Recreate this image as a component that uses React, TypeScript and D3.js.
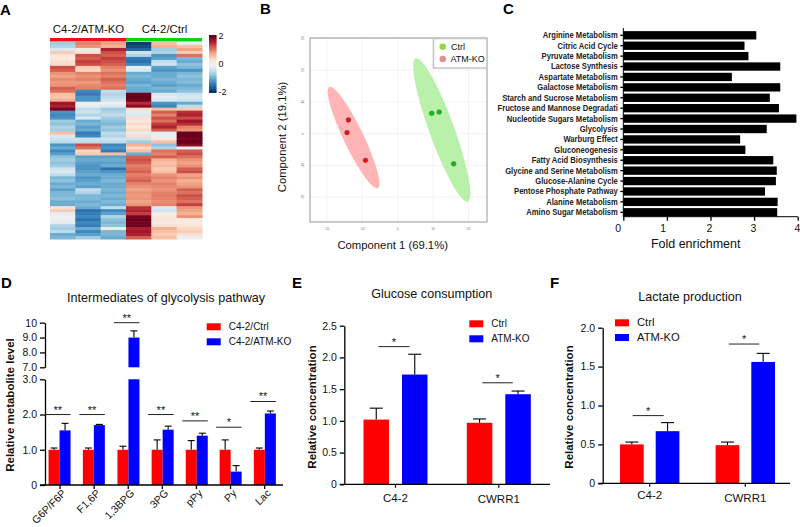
import React, { useEffect, useRef } from 'react';
import * as d3 from 'd3';

// A: heatmap, one array per sample, rows top to bottom
const heatKo1 = [-0.7,-0.6,-0.3,0.5,0.25,0.2,0.3,0.35,1.3,1.2,0.9,0.8,0.95,0.85,0.9,1.2,1.1,0.6,0.55,0.7,1.7,1.6,1.9,-1.2,-1.3,-1.2,-0.7,-0.8,-0.6,-0.7,0.6,-0.3,-0.4,-0.5,-1.2,-1.0,-1.3,-1.1,-0.8,-0.7,-0.8,-0.7,-0.4,-0.3,-0.5,-0.9,-0.8,-1,-0.9,-1.1,-0.9,-0.9,-0.8,-1,-1,0.3,0.5,-0.2,0,-0.1,-0.2,-0.6,-0.7,-0.5,-1,-0.9];
const heatKo2 = [1.0,0.9,0.2,0.3,1.3,1.2,1.4,1.3,0.5,0.4,1,0.9,1,0.85,0.95,1.0,-1.3,-1.4,-1.2,-1.2,0.1,-0.2,-0.5,-0.4,-0.6,-0.3,-1,-0.9,-1.1,-1,-1.4,-1.3,-0.4,-0.5,1.3,1.1,0.4,0.5,-1.1,-1,-1.1,-1.2,-1.2,-1.1,-1,-1.2,-1.1,-1,-1.1,-0.5,-0.6,-0.9,-0.9,-1,-0.9,-1,-1.5,-1.4,-1.3,-1.5,-1.3,-1.4,-1,-1.3,-1.1,-0.7];
const heatKo3 = [0.8,0.7,1.6,1.3,1.2,1.4,1.3,1.2,1.0,0.9,1.1,1,1.2,1.1,1,1.1,-0.5,-0.6,-0.5,-0.4,0,-0.3,-0.7,-0.6,-0.5,-0.7,-0.8,-0.9,-0.7,-0.8,-0.5,-0.6,-0.4,-0.5,-1.3,-1.2,-1.4,0.6,-1.1,-1,-1.1,-1,-1.5,-1.2,-1,-1,-0.9,-1,-1,-0.9,-1,-0.9,-1,-0.9,-1,-0.5,-1.3,-1.1,-0.6,-0.8,-0.9,-0.8,0.2,-0.9,-0.9,-1];
const heatCtrl1 = [-1.9,-1.8,-1.6,-0.4,-0.6,-1.4,-1.5,-1.3,-0.2,-0.3,-1,-0.9,-1,-1.1,-0.9,-1,-1,2,2,1.95,1.5,1.8,0.3,-0.2,-0.3,0.3,0.2,0.35,0.2,0.4,-0.2,0.3,-0.4,-0.7,0.7,0.4,0.6,-1,1.2,1.3,1.2,1.0,1.1,1.2,1,1.1,1.2,1,0.9,0.8,0.9,0.85,0.9,0.8,0.9,1.5,1.6,1.4,1.9,2,1.9,1.95,1.6,1.7,1.6,1.2];
const heatCtrl2 = [0.6,0.7,-0.7,-0.6,-1.2,-1.1,-0.5,-0.4,-1.1,-1.2,-1,-1,-0.9,-1,-1.1,-0.9,-1,-0.3,-0.2,-0.3,-1.2,-1.3,0.6,1.2,1,1.3,1.1,1.4,1.6,1.2,-0.2,-0.1,0.2,0.6,-0.8,-0.6,1.1,1,1.2,0.7,0.6,0.65,0.5,0.6,0.9,1,0.9,1,0.95,0.9,1,1.05,1,0.95,1,-0.3,-0.4,0.1,0.2,0.25,0.15,0.3,0.7,0.6,0.5,0.6];
const heatCtrl3 = [-0.2,0.6,0.8,0.5,1.1,-0.9,-1,-0.8,-0.9,-1.2,-0.9,-0.8,-0.9,-0.85,-1,-0.9,-0.8,-0.4,-0.3,-0.4,-1,-0.5,0.5,1.5,1.6,1.3,1.7,1.5,1,0.9,2,2,1.9,2,1.8,-0.1,1.2,1.3,1.1,0.9,0.8,0.9,1.2,1.3,0.8,0.9,0.7,0.8,0.9,1.2,1.1,1.3,1.2,1.1,1.4,0.9,0.8,0.7,0.9,0.2,0.15,0.25,0.4,0.5,0.3,-0.1];
const heatColumns = [heatKo1, heatKo2, heatKo3, heatCtrl1, heatCtrl2, heatCtrl3];

// B: PCA scores
const pcaCtrl = [[9.6, 6.4], [11.7, 6.8], [15.8, -9.5]];
const pcaKo = [[-13.9, 4.3], [-14.3, 0.3], [-9.1, -8.4]];
const pcaTicksX = [-20, -10, 0, 10, 20];
const pcaTicksY = [-20, -10, 0, 10, 20, 30];

// C: pathway enrichment
const pathways = ['Arginine Metabolism','Citric Acid Cycle','Pyruvate Metabolism','Lactose Synthesis','Aspartate Metabolism','Galactose Metabolism','Starch and Sucrose Metabolism','Fructose and Mannose Degradati','Nucleotide Sugars Metabolism','Glycolysis','Warburg Effect','Gluconeogenesis','Fatty Acid Biosynthesis','Glycine and Serine Metabolism','Glucose-Alanine Cycle','Pentose Phosphate Pathway','Alanine Metabolism','Amino Sugar Metabolism'];
const enrichment = [3.05,2.78,2.87,3.6,2.49,3.6,3.36,3.57,3.97,3.29,2.68,2.8,3.44,3.52,3.5,3.25,3.54,3.53];

// D: glycolysis intermediates
const metabolites = ['G6P/F6P','F1,6P','1,3BPG','3PG','pPy','Py','Lac'];
const metCtrl = [1, 1, 1, 1, 1, 1, 1];
const metCtrlTop = [1.05, 1.05, 1.1, 1.28, 1.26, 1.28, 1.05];
const metKo = [1.55, 1.7, 9.0, 1.57, 1.4, 0.38, 2.03];
const metKoTop = [1.75, 1.72, 9.45, 1.67, 1.47, 0.55, 2.1];
const metSigLevel = [2.0, 2.0, 10, 2.0, 1.82, 1.64, 2.37];
const metSigStars = ['**', '**', '**', '**', '**', '*', '**'];

// E: glucose consumption
const cellLines = ['C4-2', 'CWRR1'];
const gluCtrl = [1.02, 0.97];
const gluCtrlTop = [1.2, 1.03];
const gluKo = [1.73, 1.42];
const gluKoTop = [2.05, 1.47];
const gluSig = [2.17, 1.6];
const gluTicks = [0, 0.5, 1, 1.5, 2, 2.5];

// F: lactate production
const lacCtrl = [0.5, 0.49];
const lacCtrlTop = [0.53, 0.53];
const lacKo = [0.67, 1.56];
const lacKoTop = [0.78, 1.67];
const lacSig = [0.87, 1.79];
const lacTicks = [0, 0.5, 1, 1.5, 2];

const SANS = '"Liberation Sans", Arial, sans-serif';
const RED = '#ff0000';
const BLUE = '#0000ff';
const tickFmt = (d: any) => (d === 0 ? '0' : d3.format('.1f')(d));

type Sel = d3.Selection<any, any, any, any>;

function label(g: Sel, x: number, y: number, s: string, size: number, anchor = 'middle', weight = 'normal') {
  return g.append('text').attr('x', x).attr('y', y).attr('font-size', size).attr('text-anchor', anchor)
    .attr('font-weight', weight).attr('font-family', SANS).attr('fill', '#111').text(s);
}

function styleAxis(a: Sel, size: number) {
  a.selectAll('path,line').attr('stroke', '#000').attr('stroke-width', 1.3);
  a.selectAll('text').attr('font-size', size).attr('font-family', SANS).attr('fill', '#111');
}

function drawHeatmap(svg: Sel) {
  const g = svg.append('g');
  const x = d3.scaleBand<number>().domain(d3.range(6)).range([50, 202]);
  const y = d3.scaleBand<number>().domain(d3.range(heatKo1.length)).range([42, 239]);
  const color = d3.scaleSequential((t: number) => d3.interpolateRdBu(1 - t)).domain([-2, 2]);
  svg.append('filter').attr('id', 'soft').append('feGaussianBlur').attr('stdDeviation', 0.5);
  const cells = g.append('g').attr('filter', 'url(#soft)');
  heatColumns.forEach((col, c) => {
    cells.selectAll(null).data(col).enter().append('rect')
      .attr('x', x(c)!).attr('width', x.bandwidth() + 0.5)
      .attr('y', (_, i) => y(i)!).attr('height', y.bandwidth() + 0.5)
      .attr('fill', (d) => color(d as number));
  });
  g.append('rect').attr('x', 50).attr('y', 38).attr('width', 76).attr('height', 3.5).attr('fill', '#f01010');
  g.append('rect').attr('x', 126).attr('y', 38).attr('width', 76).attr('height', 3.5).attr('fill', '#10d010');
  label(g, 88.5, 33, 'C4-2/ATM-KO', 11.4);
  label(g, 164.5, 33, 'C4-2/Ctrl', 11.4);

  // colour bar
  const legY = d3.scaleLinear().domain([2, -2]).range([36, 92]);
  const stops = d3.range(-2, 2.01, 0.1);
  g.selectAll(null).data(stops).enter().append('rect')
    .attr('x', 209).attr('width', 7.5)
    .attr('y', (d) => legY(d as number) - 1).attr('height', 2)
    .attr('fill', (d) => color(d as number));
  [2, 0, -2].forEach((t) => label(g, 218.5, legY(t) + 3, String(t), 9, 'start'));
}

function drawPca(svg: Sel) {
  const g = svg.append('g');
  const x = d3.scaleLinear().domain([-24.75, 25.2]).range([310, 487]);
  const y = d3.scaleLinear().domain([-27.8, 30]).range([222, 38.3]);
  pcaTicksX.forEach((t) => g.append('line').attr('x1', x(t)).attr('x2', x(t)).attr('y1', 38).attr('y2', 222).attr('stroke', '#f2f2f2'));
  pcaTicksY.forEach((t) => g.append('line').attr('x1', 310).attr('x2', 487).attr('y1', y(t)).attr('y2', y(t)).attr('stroke', '#f2f2f2'));
  g.append('rect').attr('x', 310).attr('y', 38).attr('width', 177).attr('height', 184).attr('fill', 'none').attr('stroke', '#8c8c8c').attr('stroke-width', 0.9);

  const ellipse = (a: number[], b: number[], halfWidth: number, fill: string) => {
    const [x1, y1, x2, y2] = [x(a[0]), y(a[1]), x(b[0]), y(b[1])];
    const angle = (Math.atan2(y2 - y1, x2 - x1) * 180) / Math.PI;
    g.append('ellipse')
      .attr('rx', Math.hypot(x2 - x1, y2 - y1) / 2).attr('ry', halfWidth)
      .attr('transform', `translate(${(x1 + x2) / 2},${(y1 + y2) / 2}) rotate(${angle})`)
      .attr('fill', fill);
  };
  ellipse([5.1, 23.7], [19.8, -21.4], 12.5, '#b9f0aa');
  ellipse([-19.3, 14.7], [-5.6, -17.2], 10, '#ffb5b5');

  const dots = (pts: number[][], fill: string) => {
    g.selectAll(null).data(pts).enter().append('circle')
      .attr('cx', (d: any) => x(d[0])).attr('cy', (d: any) => y(d[1])).attr('r', 2.4)
      .attr('fill', fill).attr('stroke', '#444').attr('stroke-width', 0.4);
  };
  dots(pcaCtrl, '#10c010');
  dots(pcaKo, '#ee1010');

  pcaTicksX.forEach((t) => label(g, x(t), 230, String(t), 3.5).attr('fill', '#777'));
  pcaTicksY.forEach((t) => label(g, 304, y(t), String(t), 3.5).attr('fill', '#777').attr('transform', `rotate(-90 304 ${y(t)})`));

  g.append('rect').attr('x', 433.5).attr('y', 38.5).attr('width', 53.5).attr('height', 29.5).attr('fill', '#fff').attr('stroke', '#c8c8c8').attr('stroke-width', 1.6);
  g.append('circle').attr('cx', 442.7).attr('cy', 46.7).attr('r', 3.3).attr('fill', '#90d848');
  g.append('circle').attr('cx', 442.7).attr('cy', 59).attr('r', 3.3).attr('fill', '#e09090');
  label(g, 451, 50, 'Ctrl', 9, 'start');
  label(g, 450.5, 62, 'ATM-KO', 9, 'start');

  label(g, 392.7, 249, 'Component 1 (69.1%)', 11.3);
  label(g, 0, 0, 'Component 2 (19.1%)', 11.3).attr('transform', 'translate(286,137) rotate(-90)');
}

function drawEnrichment(svg: Sel) {
  const g = svg.append('g');
  const x = d3.scaleLinear().domain([0, 4]).range([623.3, 797.7]);
  const y = d3.scaleBand<string>().domain(pathways).range([30.1, 217.5]).paddingInner(0.2).paddingOuter(0.1);
  g.selectAll(null).data(enrichment).enter().append('rect')
    .attr('x', x(0)).attr('width', (d) => x(d as number) - x(0))
    .attr('y', (_, i) => y(pathways[i])!).attr('height', y.bandwidth())
    .attr('fill', '#000');

  const yAxis = g.append('g').attr('transform', `translate(${x(0)},0)`).call(d3.axisLeft(y).tickSize(3).tickPadding(2));
  styleAxis(yAxis, 8);
  yAxis.select('.domain').attr('d', 'M0,28V216.7').attr('stroke-width', 1);
  // the labels are a condensed bold face, squeezed horizontally from the tick end
  yAxis.selectAll('text').attr('font-weight', 'bold').attr('font-size', 9.2).attr('fill', '#222')
    .attr('x', 0).attr('transform', 'translate(-5.5,0) scale(0.83,1)');

  const xAxis = g.append('g').attr('transform', 'translate(0,216.7)').call(d3.axisBottom(x).ticks(4).tickFormat(d3.format('d') as any).tickSize(4).tickPadding(4));
  styleAxis(xAxis, 10.5);
  xAxis.select('.domain').attr('d', 'M623.3,0H797.7').attr('stroke-width', 1);
  const tickNudge = [-5.6, -4.3, -1.7, -1.3, -0.7];
  xAxis.selectAll('text').attr('dx', (_, i) => tickNudge[i]);
  label(g, 695.7, 248, 'Fold enrichment', 12.5);
}

function drawLegend(g: Sel, x: number, y0: number, y1: number, names: string[], size = 10) {
  [RED, BLUE].forEach((c, i) => {
    const y = i === 0 ? y0 : y1;
    g.append('rect').attr('x', x).attr('y', y).attr('width', 14).attr('height', 7).attr('fill', c);
    label(g, x + 22, y + 7, names[i], size, 'start');
  });
}

function sigMark(g: Sel, x1: number, x2: number, y: number, stars: string) {
  g.append('line').attr('x1', x1).attr('x2', x2).attr('y1', y).attr('y2', y).attr('stroke', '#222').attr('stroke-width', 1);
  label(g, (x1 + x2) / 2, y - 1, stars, 11);
}

function errorBar(g: Sel, x: number, yBase: number, yTop: number, cap: number) {
  g.append('line').attr('x1', x).attr('x2', x).attr('y1', yBase).attr('y2', yTop).attr('stroke', '#000').attr('stroke-width', 1.1);
  g.append('line').attr('x1', x - cap / 2).attr('x2', x + cap / 2).attr('y1', yTop).attr('y2', yTop).attr('stroke', '#000').attr('stroke-width', 1.1);
}

function drawGlycolysis(svg: Sel) {
  const g = svg.append('g');
  const band = d3.scaleBand<string>().domain(metabolites).range([43, 281.7]);
  const yLow = d3.scaleLinear().domain([0, 3]).range([485, 379.3]);
  const yHigh = d3.scaleLinear().domain([7, 10]).range([367.3, 322.7]);
  const y = (v: number) => (v <= 3 ? yLow(v) : yHigh(v));
  const barW = 11;
  const nudge = [-0.5, -0.3, 0.2, 0.3, 0.3, 0.1, 0.2];

  metabolites.forEach((m, i) => {
    const cx = band(m)! + band.bandwidth() / 2 + nudge[i];
    errorBar(g, cx - barW / 2, y(metCtrl[i]), y(metCtrlTop[i]), 7);
    errorBar(g, cx + barW / 2, y(metKo[i]), y(metKoTop[i]), 7);
    g.append('rect').attr('x', cx - barW).attr('width', barW).attr('y', y(metCtrl[i])).attr('height', yLow(0) - y(metCtrl[i])).attr('fill', RED);
    if (metKo[i] <= 3) {
      g.append('rect').attr('x', cx).attr('width', barW).attr('y', y(metKo[i])).attr('height', yLow(0) - y(metKo[i])).attr('fill', BLUE);
    } else {
      g.append('rect').attr('x', cx).attr('width', barW).attr('y', yLow(3)).attr('height', yLow(0) - yLow(3)).attr('fill', BLUE);
      g.append('rect').attr('x', cx).attr('width', barW).attr('y', y(metKo[i])).attr('height', yHigh(7) - y(metKo[i])).attr('fill', BLUE);
    }
    sigMark(g, cx - 13 - 1.5, cx + 13 - 2, y(metSigLevel[i]), metSigStars[i]);
  });

  const lowAxis = g.append('g').attr('transform', 'translate(45,0)').call(d3.axisLeft(yLow).tickValues([0, 1, 2, 3]).tickFormat(tickFmt).tickSize(5).tickPadding(3).tickSizeOuter(0));
  styleAxis(lowAxis, 10.5);
  const highAxis = g.append('g').attr('transform', 'translate(45,0)').call(d3.axisLeft(yHigh).tickValues([7, 8, 9, 10]).tickFormat((d: any) => (d === 10 ? '10' : d3.format('.1f')(d))).tickSize(5).tickPadding(3).tickSizeOuter(0));
  styleAxis(highAxis, 10.5);

  const xAxis = g.append('g').attr('transform', 'translate(0,485)').call(d3.axisBottom(band).tickSize(4).tickSizeOuter(0));
  styleAxis(xAxis, 10.5);
  xAxis.select('.domain').attr('d', 'M40,0H283');
  xAxis.selectAll('text').attr('text-anchor', 'end').attr('transform', 'rotate(-45)').attr('x', -1.5).attr('y', 11).attr('dy', 0);

  label(g, 166, 302, 'Intermediates of glycolysis pathway', 12.6);
  label(g, 0, 0, 'Relative metabolite level', 11.5, 'middle', 'bold').attr('transform', 'translate(14,405) rotate(-90)');
  drawLegend(g, 206.7, 323.3, 338.3, ['C4-2/Ctrl', 'C4-2/ATM-KO']);
}

interface PairOpts {
  title: string; titleX: number; titleY: number;
  axisX: number; axisEnd: number; y0: number; yTop: number; maxV: number; ticks: number[];
  centers: number[]; barW: number; gap: number;
  ctrl: number[]; ctrlTop: number[]; ko: number[]; koTop: number[]; sig: number[];
  catY: number[]; ylabelX: number; ylabelY: number; legX: number; legY0: number; legY1: number; legSize: number;
}

function drawPair(svg: Sel, o: PairOpts) {
  const g = svg.append('g');
  const y = d3.scaleLinear().domain([0, o.maxV]).range([o.y0, o.yTop]);
  const x = d3.scaleOrdinal<string, number>().domain(cellLines).range(o.centers);

  cellLines.forEach((c, i) => {
    const cx = x(c);
    const xa = cx - o.gap / 2 - o.barW;
    const xb = cx + o.gap / 2;
    errorBar(g, xa + o.barW / 2, y(o.ctrl[i]), y(o.ctrlTop[i]), 13);
    errorBar(g, xb + o.barW / 2, y(o.ko[i]), y(o.koTop[i]), 13);
    g.append('rect').attr('x', xa).attr('width', o.barW).attr('y', y(o.ctrl[i])).attr('height', y(0) - y(o.ctrl[i])).attr('fill', RED);
    g.append('rect').attr('x', xb).attr('width', o.barW).attr('y', y(o.ko[i])).attr('height', y(0) - y(o.ko[i])).attr('fill', BLUE);
    sigMark(g, cx - 16.5 + (i === 0 ? -0.5 : 0), cx + 14 , y(o.sig[i]), '*');
    label(g, cx, o.catY[i], c, 11.5);
    g.append('line').attr('x1', cx).attr('x2', cx).attr('y1', y(0)).attr('y2', y(0) + 3.5).attr('stroke', '#000').attr('stroke-width', 1.2);
  });

  const yAxis = g.append('g').attr('transform', `translate(${o.axisX},0)`).call(d3.axisLeft(y).tickValues(o.ticks).tickFormat(tickFmt).tickSize(4.5).tickPadding(3).tickSizeOuter(0));
  styleAxis(yAxis, 10.5);
  g.append('line').attr('x1', o.axisX - 4.5).attr('x2', o.axisEnd).attr('y1', y(0)).attr('y2', y(0)).attr('stroke', '#000').attr('stroke-width', 1.3);

  label(g, o.titleX, o.titleY, o.title, 12.6);
  label(g, 0, 0, 'Relative concentration', 11.5, 'middle', 'bold').attr('transform', `translate(${o.ylabelX},${o.ylabelY}) rotate(-90)`);
  drawLegend(g, o.legX, o.legY0, o.legY1, ['Ctrl', 'ATM-KO'], o.legSize);
}

const App: React.FC = () => {
  const svgRef = useRef<SVGSVGElement | null>(null);

  useEffect(() => {
    if (!svgRef.current) return;
    const svg = d3.select(svgRef.current);
    svg.selectAll('*').remove();

    drawHeatmap(svg);
    drawPca(svg);
    drawEnrichment(svg);
    drawGlycolysis(svg);
    drawPair(svg, {
      title: 'Glucose consumption', titleX: 431.7, titleY: 298,
      axisX: 344.3, axisEnd: 550, y0: 484.3, yTop: 325.7, maxV: 2.5, ticks: gluTicks,
      centers: [395.5, 498.8], barW: 25.5, gap: 13,
      ctrl: gluCtrl, ctrlTop: gluCtrlTop, ko: gluKo, koTop: gluKoTop, sig: gluSig,
      catY: [501.7, 503], ylabelX: 316, ylabelY: 407, legX: 469.3, legY0: 320.3, legY1: 335.3, legSize: 10,
    });
    drawPair(svg, {
      title: 'Lactate production', titleX: 690, titleY: 300.7,
      axisX: 602.7, axisEnd: 790, y0: 483.3, yTop: 327.7, maxV: 2, ticks: lacTicks,
      centers: [649.7, 745.3], barW: 23.7, gap: 12,
      ctrl: lacCtrl, ctrlTop: lacCtrlTop, ko: lacKo, koTop: lacKoTop, sig: lacSig,
      catY: [498.7, 501.7], ylabelX: 573, ylabelY: 407, legX: 615, legY0: 319.3, legY1: 334, legSize: 11.2,
    });

    // panel letters
    ([['A', 0, 15], ['B', 260, 14], ['C', 503, 14], ['D', 1, 288], ['E', 292, 288], ['F', 550, 288]] as [string, number, number][])
      .forEach(([s, x, y]) => label(svg, x, y, s, 15, 'start', 'bold').attr('fill', '#000'));
  }, []);

  return (
    <div style={{ position: 'absolute', left: 0, top: 0 }}>
      <svg ref={svgRef} width={800} height={527} style={{ display: 'block', background: '#fff' }}></svg>
    </div>
  );
};

export default App;
